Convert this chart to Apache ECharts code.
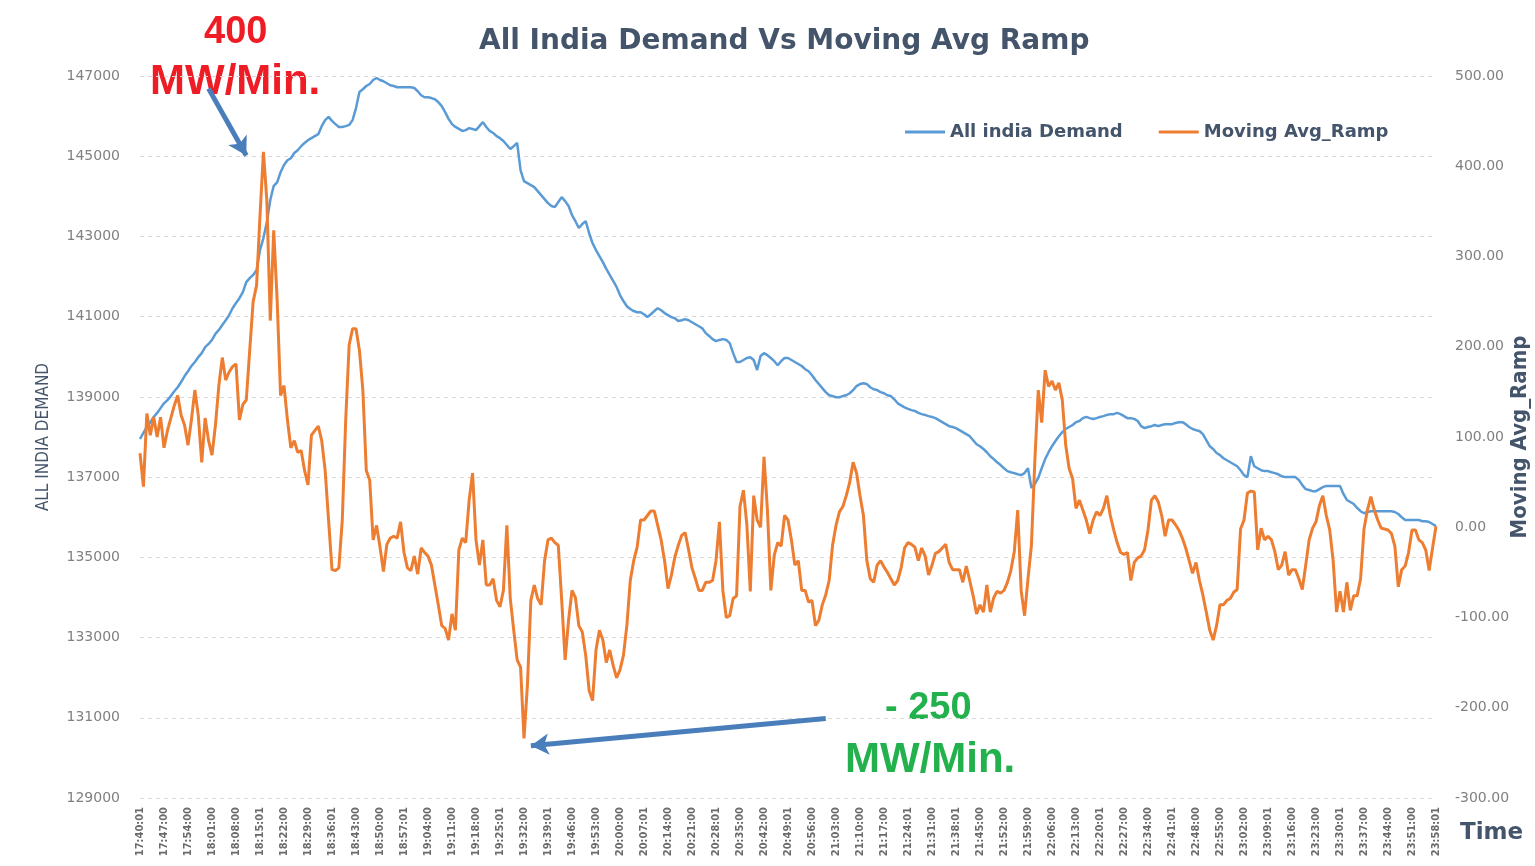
<!DOCTYPE html>
<html>
<head>
<meta charset="utf-8">
<script src="https://cdn.jsdelivr.net/npm/echarts@6/dist/echarts.min.js"></script>
<style>
  html, body { margin: 0; padding: 0; background: #ffffff; }
  #chart { width: 1535px; height: 866px; }
</style>
</head>
<body>
<div id="chart"></div>
<script>
// ---- Tick labels (every 7th minute) ----
const tickLabels = [
  '17:40:01','17:47:00','17:54:00','18:01:00','18:08:00','18:15:01','18:22:00','18:29:00','18:36:01',
  '18:43:00','18:50:00','18:57:01','19:04:00','19:11:00','19:18:00','19:25:01','19:32:00','19:39:01',
  '19:46:00','19:53:00','20:00:00','20:07:01','20:14:00','20:21:00','20:28:01','20:35:00','20:42:00',
  '20:49:01','20:56:00','21:03:00','21:10:00','21:17:00','21:24:01','21:31:00','21:38:01','21:45:00',
  '21:52:00','21:59:00','22:06:00','22:13:00','22:20:01','22:27:00','22:34:00','22:41:01','22:48:00',
  '22:55:00','23:02:00','23:09:01','23:16:00','23:23:00','23:30:01','23:37:00','23:44:00','23:51:00',
  '23:58:01'
];
const leftTickValues = [129000, 131000, 133000, 135000, 137000, 139000, 141000, 143000, 145000, 147000];

// ---- All India Demand (MW), one value per minute ----
const demand = [
  137950,138100,138250,138370,138500,138600,138720,
  138840,138920,139020,139140,139240,139370,139520,
  139640,139770,139870,139990,140090,140240,140320,
  140420,140570,140670,140790,140910,141040,141210,
  141340,141460,141610,141860,141960,142040,142160,
  142660,142960,143360,143910,144260,144350,144600,
  144780,144900,144950,145080,145150,145250,145330,
  145400,145450,145500,145550,145750,145900,145980,
  145880,145800,145730,145730,145750,145780,145900,
  146200,146600,146670,146750,146800,146900,146950,
  146900,146870,146820,146770,146750,146720,146720,
  146720,146720,146720,146700,146620,146520,146470,
  146470,146450,146420,146350,146250,146100,145930,
  145800,145730,145680,145630,145650,145700,145680,
  145650,145750,145850,145730,145630,145580,145500,
  145450,145380,145280,145180,145250,145330,144650,
  144380,144330,144280,144230,144130,144030,143930,
  143830,143760,143730,143860,143980,143880,143760,
  143530,143380,143210,143310,143380,143080,142830,
  142660,142510,142360,142190,142040,141890,141740,
  141540,141390,141260,141190,141140,141110,141110,
  141060,140990,141060,141140,141210,141160,141090,
  141040,140990,140960,140890,140910,140940,140910,
  140860,140810,140760,140710,140590,140520,140440,
  140390,140420,140440,140420,140340,140090,139870,
  139870,139920,139970,139990,139920,139670,140020,
  140090,140040,139970,139890,139790,139890,139970,
  139970,139920,139870,139820,139770,139690,139640,
  139540,139420,139320,139220,139120,139040,139020,
  138990,138990,139020,139040,139090,139170,139270,
  139320,139340,139320,139240,139190,139170,139120,
  139090,139040,139020,138940,138840,138790,138740,
  138700,138670,138650,138600,138570,138550,138520,
  138500,138470,138420,138370,138320,138270,138250,
  138220,138170,138120,138070,138020,137920,137820,
  137770,137700,137620,137520,137450,137370,137300,
  137220,137150,137120,137100,137070,137050,137100,
  137220,136730,136830,136980,137220,137450,137620,
  137770,137900,138020,138120,138200,138250,138300,
  138370,138400,138470,138500,138470,138450,138470,
  138500,138520,138550,138570,138570,138600,138570,
  138520,138470,138470,138450,138400,138270,138220,
  138250,138270,138300,138270,138300,138320,138320,
  138320,138350,138370,138370,138320,138250,138200,
  138170,138150,138070,137920,137770,137700,137600,
  137550,137470,137420,137370,137320,137270,137170,
  137050,137000,137520,137270,137220,137170,137150,
  137150,137120,137100,137070,137020,137000,137000,
  137000,137000,136930,136800,136700,136680,136650,
  136650,136700,136750,136780,136780,136780,136780,
  136780,136580,136430,136380,136330,136230,136150,
  136100,136130,136150,136150,136150,136150,136150,
  136150,136150,136130,136080,136000,135930,135930,
  135930,135930,135930,135900,135900,135880,135830,
  135780
];

// ---- Moving Avg Ramp (MW/Min), one value per minute ----
const ramp = [
  82,45,126,102,122,100,122,
  88,107,121,135,146,124,113,
  91,119,152,124,72,121,96,
  80,113,157,188,163,172,178,
  181,119,136,141,196,250,268,
  345,416,362,229,329,252,146,
  157,119,88,96,83,85,63,
  47,102,107,112,96,63,8,
  -47,-48,-45,8,119,202,220,
  220,196,152,63,52,-14,2,
  -22,-49,-19,-12,-10,-12,6,
  -28,-45,-48,-32,-52,-23,-28,
  -32,-42,-64,-86,-109,-112,-125,
  -96,-114,-25,-12,-17,30,60,
  -14,-42,-14,-64,-64,-57,-81,
  -88,-70,2,-79,-114,-147,-155,
  -234,-175,-81,-64,-79,-86,-37,
  -14,-12,-17,-20,-81,-147,-103,
  -70,-78,-109,-116,-142,-181,-192,
  -136,-114,-125,-150,-136,-153,-167,
  -158,-142,-109,-59,-37,-22,8,
  8,13,18,18,2,-14,-37,
  -68,-53,-33,-20,-9,-6,-25,
  -45,-57,-70,-70,-61,-61,-59,
  -37,6,-70,-100,-98,-79,-76,
  23,41,3,-71,35,8,0,
  78,19,-70,-31,-17,-21,13,
  8,-14,-42,-37,-70,-70,-83,
  -81,-109,-103,-86,-75,-59,-20,
  2,17,23,35,50,72,60,
  35,13,-37,-57,-61,-42,-37,
  -44,-50,-57,-64,-59,-45,-23,
  -17,-19,-22,-37,-23,-32,-53,
  -42,-29,-27,-23,-19,-39,-47,
  -47,-47,-61,-43,-59,-76,-96,
  -86,-94,-64,-94,-78,-71,-73,
  -70,-61,-48,-27,19,-70,-98,
  -57,-20,74,152,116,174,156,
  162,152,160,141,91,65,54,
  21,30,19,8,-7,8,17,
  13,21,35,13,-3,-17,-28,
  -30,-28,-59,-39,-34,-32,-25,
  -3,30,35,28,13,-10,8,
  8,3,-3,-12,-23,-37,-51,
  -39,-59,-75,-94,-114,-125,-109,
  -86,-86,-81,-79,-72,-69,-2,
  8,38,40,39,-25,-1,-14,
  -10,-14,-27,-47,-42,-27,-53,
  -47,-47,-57,-69,-42,-14,-1,
  6,24,35,13,-3,-37,-94,
  -71,-94,-61,-92,-76,-76,-57,
  -2,19,34,19,8,-1,-2,
  -3,-7,-21,-66,-47,-43,-28,
  -3,-3,-14,-17,-25,-48,-23,
  1
];

// ---- Annotation arrows (category index, ramp value) ----
const peakArrow = { from: [20, 486], to: [31, 412] };
const troughArrow = { from: [200, -212], to: [114, -242] };

// Category axis: one entry per minute; labelled entries are the tick labels
const pad = n => (n < 10 ? '0' : '') + n;
const categories = [];
tickLabels.forEach((t, k) => {
  categories.push(t);
  if (k < tickLabels.length - 1) {
    const parts = t.split(':').map(Number);
    for (let j = 1; j < 7; j++) {
      const tot = parts[0] * 60 + parts[1] + j;
      categories.push(pad(Math.floor(tot / 60)) + ':' + pad(tot % 60));
    }
  }
});

const chart = echarts.init(document.getElementById('chart'), null, { renderer: 'canvas' });
const axisTitleColor = '#44546a';
const gridColor = '#d9d9d9';

chart.setOption({
  animation: false,
  backgroundColor: '#ffffff',
  title: {
    text: 'All India Demand Vs Moving Avg Ramp',
    left: 474,
    top: 23,
    textStyle: { fontFamily: 'DejaVu Sans', fontWeight: 'bold', fontSize: 28, color: axisTitleColor }
  },
  legend: {
    left: 900,
    top: 118,
    icon: 'rect',
    itemWidth: 40,
    itemHeight: 3,
    itemGap: 36,
    textStyle: { fontFamily: 'DejaVu Sans', fontWeight: 'bold', fontSize: 18, color: axisTitleColor },
    data: ['All india Demand', 'Moving Avg_Ramp']
  },
  grid: { left: 140, right: 99, top: 76, bottom: 68, containLabel: false, outerBoundsMode: 'none' },
  xAxis: {
    type: 'category',
    data: categories,
    boundaryGap: false,
    axisLine: { show: false },
    axisTick: { show: false },
    splitLine: { show: false },
    axisLabel: {
      interval: 6,
      rotate: 90,
      margin: 9,
      fontFamily: 'DejaVu Sans Condensed',
      fontWeight: 'bold',
      fontSize: 11,
      color: '#6a6a6a'
    }
  },
  yAxis: [
    {
      type: 'value',
      position: 'left',
      min: 129000,
      max: 147000,
      interval: 1000,
      name: 'ALL INDIA DEMAND',
      nameLocation: 'middle',
      nameRotate: 90,
      nameGap: 88,
      nameMoveOverlap: false,
      nameTextStyle: { fontFamily: 'DejaVu Sans Condensed', fontSize: 17, color: axisTitleColor },
      axisLine: { show: false },
      axisTick: { show: false, customValues: leftTickValues },
      axisLabel: {
        customValues: leftTickValues,
        margin: 20,
        fontFamily: 'DejaVu Sans',
        fontSize: 14,
        color: '#808080',
        formatter: v => String(v)
      },
      splitLine: { show: true, lineStyle: { color: gridColor, type: [4, 4], width: 1 } }
    },
    {
      type: 'value',
      position: 'right',
      min: -300,
      max: 500,
      interval: 100,
      name: 'Moving Avg_Ramp',
      nameLocation: 'middle',
      nameRotate: 90,
      nameGap: 73,
      nameMoveOverlap: false,
      nameTextStyle: { fontFamily: 'DejaVu Sans Condensed', fontWeight: 'bold', fontSize: 22, color: axisTitleColor },
      axisLine: { show: false },
      axisTick: { show: false },
      axisLabel: {
        margin: 19,
        fontFamily: 'DejaVu Sans',
        fontSize: 14,
        color: '#808080',
        formatter: v => v.toFixed(2)
      },
      splitLine: { show: false }
    }
  ],
  series: [
    {
      name: 'All india Demand',
      type: 'line',
      yAxisIndex: 0,
      data: demand,
      symbol: 'none',
      lineStyle: { color: '#5b9bd5', width: 2.5 },
      itemStyle: { color: '#5b9bd5' },
      z: 2
    },
    {
      name: 'Moving Avg_Ramp',
      type: 'line',
      yAxisIndex: 1,
      data: ramp,
      symbol: 'none',
      lineStyle: { color: '#ed7d31', width: 3 },
      itemStyle: { color: '#ed7d31' },
      z: 3,
      markLine: {
        silent: true,
        symbol: ['none', 'arrow'],
        symbolSize: [16, 18],
        label: { show: false },
        lineStyle: { color: '#4a7ebb', width: 5, type: 'solid' },
        emphasis: { disabled: true },
        data: [
          [{ coord: [categories[peakArrow.from[0]], peakArrow.from[1]] }, { coord: [categories[peakArrow.to[0]], peakArrow.to[1]] }],
          [{ coord: [categories[troughArrow.from[0]], troughArrow.from[1]] }, { coord: [categories[troughArrow.to[0]], troughArrow.to[1]] }]
        ]
      }
    }
  ],
  graphic: [
    { type: 'text', left: 204, top: 14, style: { text: '400', fill: '#ee1c25', font: 'bold 38px "Liberation Sans", Arial, sans-serif' } },
    { type: 'text', left: 150, top: 61, style: { text: 'MW/Min.', fill: '#ee1c25', font: 'bold 42px "Liberation Sans", Arial, sans-serif' } },
    { type: 'text', left: 885, top: 690, style: { text: '- 250', fill: '#22b14c', font: 'bold 38px "Liberation Sans", Arial, sans-serif' } },
    { type: 'text', left: 845, top: 739, style: { text: 'MW/Min.', fill: '#22b14c', font: 'bold 42px "Liberation Sans", Arial, sans-serif' } },
    { type: 'text', left: 1460, top: 822, style: { text: 'Time', fill: axisTitleColor, font: 'bold 23px "DejaVu Sans", sans-serif' } }
  ]
});
</script>
</body>
</html>
